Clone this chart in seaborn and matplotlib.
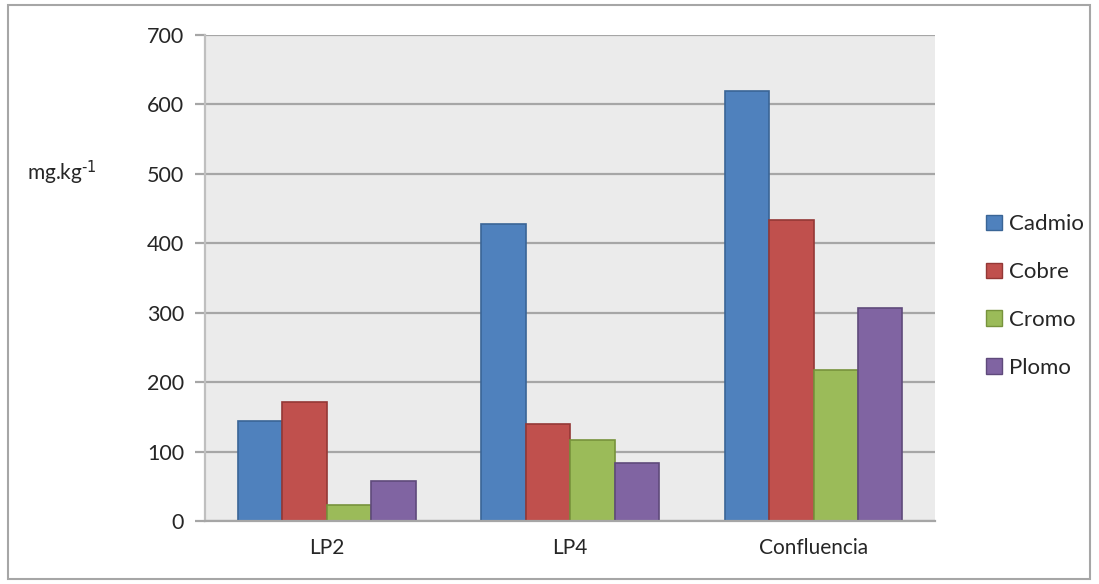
import pandas as pd
import matplotlib.pyplot as plt
import seaborn as sns
from matplotlib.patches import Rectangle

# Data
sitios = ["LP2", "LP4", "Confluencia"]
metales = ["Cadmio", "Cobre", "Cromo", "Plomo"]
cadmio = [144, 428, 619]
cobre = [171, 140, 434]
cromo = [23, 117, 217]
plomo = [57, 84, 307]
colores = ["#4F81BD", "#C0504D", "#9BBB59", "#8064A2"]
bordes = ["#3A6596", "#943836", "#77933C", "#5F4A7B"]

df = pd.DataFrame({
    "Sitio": sitios * 4,
    "Metal": [m for m in metales for _ in sitios],
    "Valor": cadmio + cobre + cromo + plomo,
})

sns.set_style("white")
plt.rcParams["font.family"] = ["Lato", "DejaVu Sans"]
plt.rcParams["mathtext.default"] = "regular"

fig = plt.figure(figsize=(10.99, 5.84), dpi=100)
ax = fig.add_axes([0.1865, 0.108, 0.6645, 0.832])
ax.set_facecolor("#EBEBEB")

sns.barplot(data=df, x="Sitio", y="Valor", hue="Metal", order=sitios,
            hue_order=metales, palette=colores, width=0.73, gap=0,
            saturation=1, ax=ax, legend=True)

# darker outline per series
for cont, ec in zip(ax.containers, bordes):
    for bar in cont:
        bar.set_edgecolor(ec)
        bar.set_linewidth(1.2)

ax.set_ylim(0, 700)
ax.set_yticks(range(0, 701, 100))
ax.set_xlim(-0.5, 2.5)
ax.yaxis.grid(True, color="#A6A6A6", linewidth=1.6)
ax.set_axisbelow(True)
ax.set_xlabel("")
ax.set_ylabel("")
for s in ["top", "right"]:
    ax.spines[s].set_visible(False)
ax.spines["left"].set_color("#BFBFBF")
ax.spines["left"].set_linewidth(1.6)
ax.spines["bottom"].set_color("#A6A6A6")
ax.spines["bottom"].set_linewidth(1.6)
ax.tick_params(axis="y", length=7, width=1.6, color="#A6A6A6",
               labelsize=15.5, pad=8, left=True)
ax.tick_params(axis="x", length=0, labelsize=15, pad=12)

fig.text(0.025, 0.705, r"mg.kg$^{\text{-1}}$", fontsize=15, ha="left", va="center")

handles, labels = ax.get_legend_handles_labels()
leg = ax.legend(handles, labels, loc="center left", bbox_to_anchor=(1.058, 0.463),
                frameon=False, fontsize=16, handlelength=0.7,
                handleheight=0.7, handletextpad=0.3, labelspacing=1.25,
                borderaxespad=0)
for h, ec in zip(leg.legend_handles, bordes):
    h.set_edgecolor(ec)

fig.patches.append(Rectangle((0.007, 0.008), 0.985, 0.983,
                             transform=fig.transFigure, fill=False,
                             edgecolor="#A6A6A6", linewidth=1.5))

fig.savefig("out.png", dpi=100)
